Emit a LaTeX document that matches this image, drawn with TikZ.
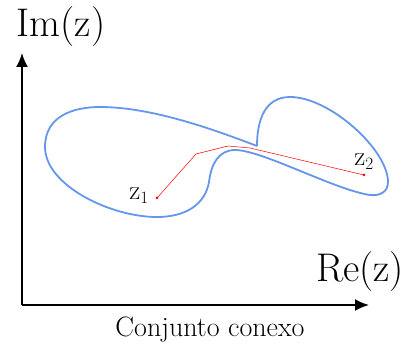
\documentclass[tikz,border=0pt]{standalone}
\usetikzlibrary{arrows.meta}
\definecolor{blobblue}{RGB}{100,150,235}
\begin{document}
\begin{tikzpicture}[x=1pt,y=-1pt,
  axis/.style={line width=2pt,-{Latex[length=14pt,width=12pt]}},
  blob/.style={blobblue,line width=1.8pt,line join=round},
  pathline/.style={red,line width=0.5pt},
  bigtxt/.style={font=\fontsize{40}{44}\selectfont,inner sep=0pt},
  ztxt/.style={font=\fontsize{27}{30}\selectfont,inner sep=0pt},
  captxt/.style={font=\fontsize{28}{32}\selectfont,inner sep=0pt},
  dot/.style={circle,fill=red,inner sep=0pt,minimum size=3pt}]
\useasboundingbox (0,0) rectangle (405,347);
\coordinate (O) at (22,305);
\coordinate (ytip) at (22,53);
\coordinate (xtip) at (369,305);
\draw[axis] (O) -- (ytip);
\draw[axis] (O) -- (xtip);
\node[bigtxt] (im) at (61,27) {Im(z)};
\node[bigtxt] (re) at (360,272) {Re(z)};
\node[captxt] (cap) at (210,330) {Conjunto conexo};
% blob
\draw[blob] (257,146)
  .. controls (257,120) and (265,97) .. (290,97)
  .. controls (330,97) and (388,150) .. (388,182)
  .. controls (388,192) and (380,196) .. (370,195)
  .. controls (335,190) and (262,150) .. (235,150)
  .. controls (218,150) and (211,165) .. (209,182)
  .. controls (205,205) and (185,217) .. (157,217)
  .. controls (110,217) and (45,185) .. (45,147)
  .. controls (45,115) and (75,107) .. (100,107)
  .. controls (150,107) and (210,128) .. (257,146);
% path
\node[dot] (z1) at (157,198) {};
\node[dot] (z2) at (364,175) {};
\coordinate (p1) at (196,154);
\coordinate (p2) at (228,146);
\coordinate (p3) at (250,148);
\draw[pathline] (z1.center) -- (p1) -- (p2) -- (p3) -- (z2.center);
\node[ztxt] (l1) at (139,196) {z$_1$};
\node[ztxt] (l2) at (364,162) {z$_2$};
\end{tikzpicture}
\end{document}
